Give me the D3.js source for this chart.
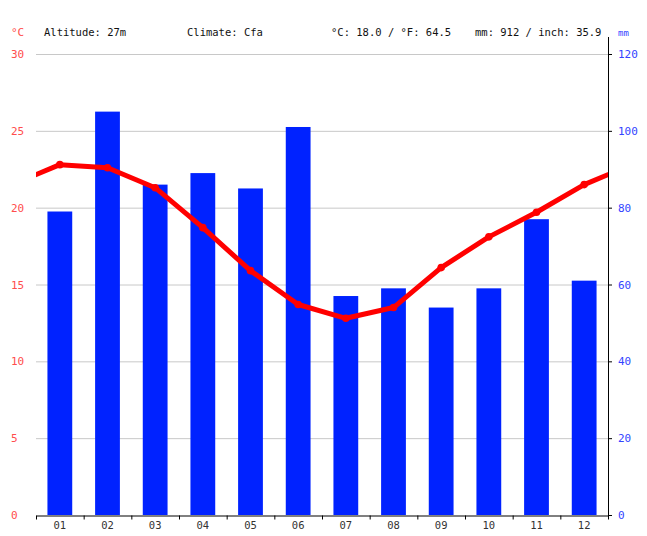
<!DOCTYPE html>
<html>
<head>
<meta charset="utf-8">
<script src="https://cdn.jsdelivr.net/npm/d3@7.9.0/dist/d3.min.js"></script>
<style>
  body { margin: 0; background: #fff; }
  svg text { font-family: "DejaVu Sans Mono", monospace; }
</style>
</head>
<body>
<svg id="chart"></svg>
<script>
// monthly climate values
const months = ["01", "02", "03", "04", "05", "06", "07", "08", "09", "10", "11", "12"];
const precipitation = [79, 105, 86, 89, 85, 101, 57, 59, 54, 59, 77, 61];
const temperature = [22.8, 22.6, 21.3, 18.7, 15.9, 13.7, 12.8, 13.5, 16.1, 18.1, 19.7, 21.5];
const tempTicks = [0, 5, 10, 15, 20, 25, 30];
const rainTicks = [0, 20, 40, 60, 80, 100, 120];
const header = [
    { text: "Altitude: 27m", x: 44 },
    { text: "Climate: Cfa", x: 187 },
    { text: "°C: 18.0 / °F: 64.5", x: 331 },
    { text: "mm: 912 / inch: 35.9", x: 475 }
];

const width = 647, height = 536;
const plotLeft = 36, plotRight = 608, plotTop = 54, plotBottom = 515;

let svg = d3.select("#chart")
    .attr("width", width)
    .attr("height", height);

let x = d3.scaleBand().domain(months).range([plotLeft, plotRight]);
let yTemp = d3.scaleLinear().domain([0, 30]).range([plotBottom, plotTop]);
let yRain = d3.scaleLinear().domain([0, 120]).range([plotBottom, plotTop]);

// grid lines
svg.append("g")
    .selectAll("line")
    .data(tempTicks.filter(t => t > 0))
    .enter()
    .append("line")
    .attr("x1", plotLeft)
    .attr("x2", plotRight)
    .attr("y1", d => yTemp(d) + 0.5)
    .attr("y2", d => yTemp(d) + 0.5)
    .attr("stroke", "#c8c8c8")
    .attr("stroke-width", 1);

// precipitation bars
svg.append("g")
    .selectAll("rect")
    .data(precipitation)
    .enter()
    .append("rect")
    .attr("x", (d, i) => x(months[i]) + x.bandwidth() * 0.24)
    .attr("width", x.bandwidth() * 0.52)
    .attr("y", d => yRain(d))
    .attr("height", d => plotBottom - yRain(d))
    .attr("fill", "#0022ff");

// temperature line, wrapped around the year at both ends
let bw = x.bandwidth();
let pts = temperature.map((t, i) => [x(months[i]) + bw / 2, yTemp(t)]);
let wrapped = [[pts[0][0] - bw, yTemp(temperature[11])], ...pts, [pts[11][0] + bw, yTemp(temperature[0])]];

svg.append("clipPath").attr("id", "plotClip")
    .append("rect")
    .attr("x", plotLeft).attr("y", 0)
    .attr("width", plotRight - plotLeft).attr("height", height);

svg.append("path")
    .datum(wrapped)
    .attr("clip-path", "url(#plotClip)")
    .attr("d", d3.line())
    .attr("fill", "none")
    .attr("stroke", "#ff0000")
    .attr("stroke-width", 5)
    .attr("stroke-linejoin", "round");

svg.append("g")
    .selectAll("circle")
    .data(pts)
    .enter()
    .append("circle")
    .attr("cx", d => d[0])
    .attr("cy", d => d[1])
    .attr("r", 3.8)
    .attr("fill", "#ff0000");

// x axis
let xAxis = svg.append("g")
    .attr("transform", `translate(0,${plotBottom + 0.5})`)
    .call(d3.axisBottom(x).tickSize(0).tickPadding(6));
xAxis.select(".domain").attr("stroke", "#000");
xAxis.selectAll("text")
    .attr("font-size", "10.5px")
    .attr("fill", "#333")
    .style("font-family", "'DejaVu Sans Mono', monospace");

xAxis.selectAll(".sep")
    .data(d3.range(13))
    .enter()
    .append("line")
    .attr("class", "sep")
    .attr("x1", i => plotLeft + i * bw + 0.5)
    .attr("x2", i => plotLeft + i * bw + 0.5)
    .attr("y1", 0)
    .attr("y2", 4)
    .attr("stroke", "#000");

// right axis line
svg.append("line")
    .attr("x1", plotRight + 0.5).attr("x2", plotRight + 0.5)
    .attr("y1", 37).attr("y2", plotBottom + 4)
    .attr("stroke", "#000");

svg.append("g")
    .selectAll("line")
    .data(rainTicks)
    .enter()
    .append("line")
    .attr("x1", plotRight)
    .attr("x2", plotRight + 4)
    .attr("y1", d => yRain(d) + 0.5)
    .attr("y2", d => yRain(d) + 0.5)
    .attr("stroke", "#000");

// left tick labels (temperature)
svg.append("g")
    .selectAll("text")
    .data(tempTicks)
    .enter()
    .append("text")
    .attr("x", 11)
    .attr("y", d => yTemp(d) + 4)
    .attr("font-size", "11px")
    .attr("fill", "#ff4d4d")
    .text(d => d);

// right tick labels (precipitation)
svg.append("g")
    .selectAll("text")
    .data(rainTicks)
    .enter()
    .append("text")
    .attr("x", 618)
    .attr("y", d => yRain(d) + 4)
    .attr("font-size", "11px")
    .attr("fill", "#3344ff")
    .text(d => d);

// unit labels
svg.append("text")
    .attr("x", 11).attr("y", 36)
    .attr("font-size", "11px")
    .attr("fill", "#ff4d4d")
    .text("°C");

svg.append("text")
    .attr("x", 618).attr("y", 36)
    .attr("font-size", "9px")
    .attr("fill", "#3344ff")
    .text("mm");

// header info
svg.append("g")
    .selectAll("text")
    .data(header)
    .enter()
    .append("text")
    .attr("x", d => d.x)
    .attr("y", 36)
    .attr("font-size", "10.5px")
    .attr("fill", "#111")
    .text(d => d.text);
</script>
</body>
</html>
